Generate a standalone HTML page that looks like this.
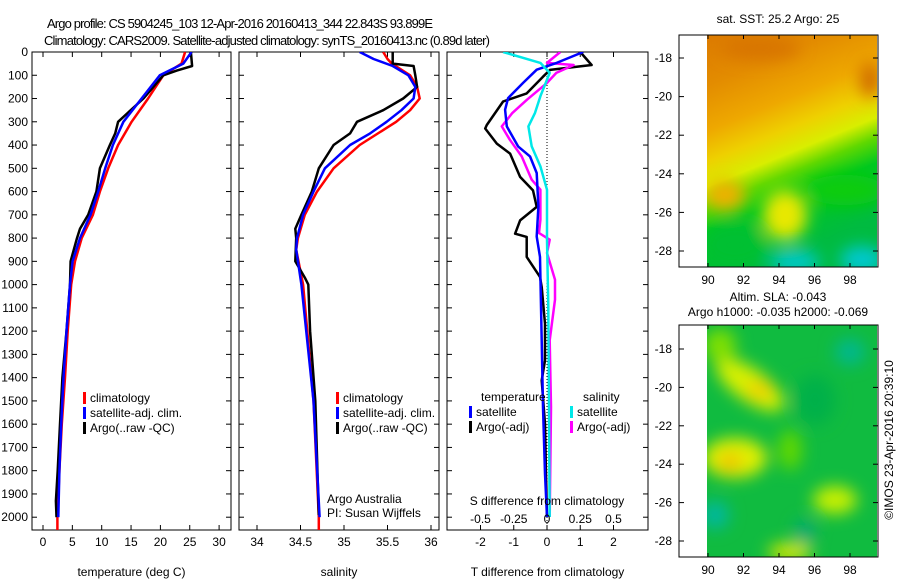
<!DOCTYPE html>
<html><head><meta charset="utf-8"><style>
html,body{margin:0;padding:0;background:#fff}
svg{display:block;font-family:"Liberation Sans",sans-serif}
</style></head><body>
<svg id="chart" width="900" height="580" viewBox="0 0 900 580" xmlns="http://www.w3.org/2000/svg">
<defs>
<filter id="bl" x="-30%" y="-30%" width="160%" height="160%"><feGaussianBlur stdDeviation="8"/></filter>
<linearGradient id="sstg" x1="0" y1="0" x2="0.3" y2="1">
<stop offset="0" stop-color="#dc7a00"/><stop offset="0.2" stop-color="#e38c00"/>
<stop offset="0.38" stop-color="#eea800"/><stop offset="0.5" stop-color="#eed000"/>
<stop offset="0.6" stop-color="#d8ee00"/><stop offset="0.68" stop-color="#60d800"/>
<stop offset="0.78" stop-color="#00c820"/><stop offset="1" stop-color="#00bb40"/>
</linearGradient>
<clipPath id="c1"><rect x="707" y="35" width="170" height="232"/></clipPath>
<clipPath id="c2"><rect x="707" y="325" width="170" height="232"/></clipPath>
<clipPath id="p1"><rect x="32" y="52" width="199" height="478"/></clipPath>
<clipPath id="p2"><rect x="239" y="52" width="200" height="478"/></clipPath>
<clipPath id="p3"><rect x="447" y="52" width="201" height="478"/></clipPath>
</defs>
<text x="47" y="28" font-size="13" textLength="386">Argo profile: CS 5904245_103 12-Apr-2016 20160413_344 22.843S 93.899E</text>
<text x="44" y="45" font-size="13" textLength="446">Climatology: CARS2009. Satellite-adjusted climatology: synTS_20160413.nc (0.89d later)</text>
<g id="panels"></g>

<g>
<text x="778" y="23" font-size="12" text-anchor="middle">sat. SST: 25.2 Argo: 25</text>
<g clip-path="url(#c1)">
<rect x="707" y="35" width="170" height="232" fill="url(#sstg)"/>
<g filter="url(#bl)">
<ellipse cx="725" cy="195" rx="20" ry="15" fill="#f0b000"/>
<ellipse cx="785" cy="215" rx="22" ry="25" fill="#e8e800"/>
<ellipse cx="735" cy="245" rx="32" ry="22" fill="#00c030"/>
<ellipse cx="845" cy="190" rx="40" ry="15" fill="#10cc10"/>
<ellipse cx="795" cy="262" rx="25" ry="12" fill="#00c8c8"/>
<ellipse cx="862" cy="260" rx="22" ry="14" fill="#00c8d0"/>
<ellipse cx="870" cy="80" rx="10" ry="18" fill="#d06800"/>
<ellipse cx="760" cy="48" rx="40" ry="12" fill="#d87400"/>
</g>
</g>
<rect x="679" y="35" width="199" height="232" fill="none" stroke="#000"/>
<g id="map1ticks"></g>
</g>

<g>
<text x="778" y="301" font-size="12" text-anchor="middle">Altim. SLA: -0.043</text>
<text x="778" y="316" font-size="12" text-anchor="middle">Argo h1000: -0.035 h2000: -0.069</text>
<g clip-path="url(#c2)">
<rect x="707" y="325" width="170" height="232" fill="#10bb40"/>
<g filter="url(#bl)">
<ellipse cx="750" cy="385" rx="40" ry="16" fill="#d8f000" transform="rotate(35 750 385)"/>
<ellipse cx="760" cy="390" rx="14" ry="9" fill="#f0d000"/>
<ellipse cx="735" cy="458" rx="32" ry="20" fill="#e0f000"/>
<ellipse cx="730" cy="462" rx="12" ry="9" fill="#f0c000"/>
<ellipse cx="720" cy="345" rx="16" ry="16" fill="#80e000"/>
<ellipse cx="790" cy="450" rx="12" ry="20" fill="#60d800"/>
<ellipse cx="835" cy="500" rx="22" ry="14" fill="#c8f000"/>
<ellipse cx="790" cy="552" rx="22" ry="9" fill="#d8e800"/>
<ellipse cx="850" cy="352" rx="15" ry="13" fill="#00b890"/>
<ellipse cx="715" cy="515" rx="14" ry="14" fill="#00b8a0"/>
<ellipse cx="805" cy="532" rx="10" ry="12" fill="#00a878"/>
<ellipse cx="815" cy="400" rx="20" ry="25" fill="#00b048"/>
</g>
</g>
<rect x="679" y="325" width="199" height="232" fill="none" stroke="#000"/>
<g id="map2ticks"></g>
</g>
<text transform="translate(893,440) rotate(-90)" font-size="12" text-anchor="middle">©IMOS 23-Apr-2016 20:39:10</text>
</svg>
<script>
const depthTicks = [0,100,200,300,400,500,600,700,800,900,1000,1100,1200,1300,1400,1500,1600,1700,1800,1900,2000];
const tempTicks = [0,5,10,15,20,25,30];
const salTicks = [34,34.5,35,35.5,36];
const tdiffTicks = [-2,-1,0,1,2];
const sdiffTicks = [-0.5,-0.25,0,0.25,0.5];
const latTicks = [-18,-20,-22,-24,-26,-28];
const lonTicks = [90,92,94,96,98];

const tClimDepth = [0,50,100,200,300,400,500,600,700,800,900,1000,1200,1400,1600,1800,2000,2055];
const tClimVal   = [24.2,23.6,20.5,17.9,15.1,12.8,11.1,9.7,8.5,6.6,5.45,4.8,4.2,3.75,3.2,2.8,2.45,2.45];
const tSatDepth  = [0,50,100,200,300,400,500,600,700,800,900,1000,1200,1400,1600,1800,2000];
const tSatVal    = [25.3,23.9,19.9,16.8,13.7,11.9,10.6,9.4,8.1,6.3,5.05,4.6,4.0,3.5,3.1,2.8,2.6];
const tArgoDepth = [0,60,80,100,200,300,350,400,500,600,700,760,800,900,1000,1200,1400,1600,1800,1930,2000];
const tArgoVal   = [25.2,25.4,22.8,20.5,17.1,12.8,12.3,11.4,9.7,9.1,7.7,6.3,5.8,4.7,4.6,4.0,3.3,2.9,2.5,2.2,2.3];

const sClimDepth = [0,30,50,100,150,200,250,300,400,500,600,700,800,850,1000,1500,2000,2055];
const sClimVal   = [35.45,35.5,35.55,35.76,35.84,35.87,35.76,35.6,35.18,34.88,34.69,34.55,34.47,34.45,34.53,34.65,34.71,34.71];
const sSatDepth  = [0,30,60,100,150,200,250,300,350,400,500,600,700,800,850,1000,1500,2000];
const sSatVal    = [35.18,35.34,35.56,35.74,35.82,35.8,35.66,35.49,35.3,35.07,34.78,34.65,34.53,34.46,34.45,34.51,34.65,34.72];
const sArgoDepth = [0,50,60,100,150,200,250,300,350,400,500,600,700,760,800,900,970,1000,1200,1500,1990];
const sArgoVal   = [35.56,35.56,35.8,35.82,35.84,35.68,35.45,35.15,35.07,34.88,34.71,34.63,34.51,34.44,34.45,34.44,34.55,34.59,34.61,34.67,34.71];

const dTSatDepth = [0,47,76,133,198,248,320,406,449,520,664,793,881,1240,1527,1813,1999];
const dTSatVal   = [1.09,0.29,-0.31,-0.72,-1.17,-1.26,-1.21,-0.87,-0.51,-0.31,-0.26,-0.31,-0.21,-0.16,-0.12,-0.06,0];
const dTArgoDepth = [0,56,77,106,178,213,314,329,394,437,537,595,666,724,781,795,881,967,1010,1168,1326,1412,1598,1813,1999];
const dTArgoVal   = [1.0,1.34,0.09,-0.12,-0.61,-1.32,-1.81,-1.86,-1.51,-1.11,-0.81,-0.42,-0.31,-0.81,-0.96,-0.61,-0.61,-0.21,-0.16,-0.06,-0.06,-0.16,-0.06,-0.03,0];
const dSSatDepth = [0,47,90,190,262,320,406,492,592,807,1093,1999];
const dSSatVal   = [-0.33,-0.05,0.02,-0.05,-0.09,-0.14,-0.115,-0.05,0,0,0.01,0.02];
const dSArgoDepth = [0,47,56,90,133,205,262,320,377,449,549,592,721,778,807,864,979,1065,1240,1527,1999];
const dSArgoVal   = [0.1,0,0.2,0.07,0,-0.15,-0.26,-0.34,-0.28,-0.19,-0.115,-0.05,-0.05,-0.06,0.02,0,0.06,0.06,0.02,0.03,0.02];

const Y0=52, Y1=530, DMAX=2055;
const yD = d => Y0 + d*(Y1-Y0)/DMAX;
const xT = t => 43 + t*5.87;
const xS = s => 257 + (s-34)*87;
const xDT = t => 547 + t*33.25;
const xDS = s => 547 + s*133;
const NS='http://www.w3.org/2000/svg';
const root=document.getElementById('panels');
function mk(tag,attrs,parent){const e=document.createElementNS(NS,tag);for(const k in attrs)e.setAttribute(k,attrs[k]);(parent||root).appendChild(e);return e;}
function txt(x,y,s,anchor,parent,size){const e=mk('text',{x:x,y:y,'font-size':size||12,'text-anchor':anchor||'middle'},parent);e.textContent=s;return e;}

function panel(name,x0,x1,clip,xticks,xf,xlabel,showDepth){
  const g=mk('g',{});
  
  
  const fr=mk('rect',{x:x0,y:Y0,width:x1-x0,height:Y1-Y0,fill:'none',stroke:'#000'},g);
  
  
  depthTicks.forEach(d=>{const y=yD(d);
    mk('line',{x1:x0,x2:x0+5,y1:y,y2:y,stroke:'#000'},g);
    mk('line',{x1:x1-5,x2:x1,y1:y,y2:y,stroke:'#000'},g);
    if(showDepth){const t=txt(28,y+4,String(d),'end',g);  }
  });
  if(xticks){xticks.forEach(v=>{const x=xf(v);
    mk('line',{x1:x,x2:x,y1:Y0,y2:Y0+5,stroke:'#000'},g);
    mk('line',{x1:x,x2:x,y1:Y1-5,y2:Y1,stroke:'#000'},g);
    const t=txt(x,Y1+16,String(v),'middle',g);  
  });}
  const l=txt((x0+x1)/2,Y1+46,xlabel,'middle',g);
  
  
  return g;
}
function line(g,depths,vals,xf,color,clip,nm,w){
  const pts=depths.map((d,i)=>xf(vals[i]).toFixed(1)+','+yD(d).toFixed(1)).join(' ');
  const p=mk('polyline',{points:pts,fill:'none',stroke:color,'stroke-width':w||2.5,'stroke-linejoin':'round','clip-path':clip},g);
  
  
}
function legend(g,x,y,items){
  items.forEach((it,i)=>{
    mk('rect',{x:x,y:y+i*15-10,width:3,height:12,fill:it[0]},g);
    const t=txt(x+7,y+i*15,it[1],'start',g);
    
    
  });
}
const g1=panel('temperature',32,231,'url(#p1)',tempTicks,xT,'temperature (deg C)',true);
line(g1,tClimDepth,tClimVal,xT,'#ff0000','url(#p1)','temp-climatology-line');
line(g1,tArgoDepth,tArgoVal,xT,'#000','url(#p1)','temp-argo-line');
line(g1,tSatDepth,tSatVal,xT,'#0000ff','url(#p1)','temp-satellite-line');
legend(g1,83,402,[['#ff0000','climatology'],['#0000ff','satellite-adj. clim.'],['#000','Argo(..raw -QC)']]);
const g2=panel('salinity',239,439,'url(#p2)',salTicks,xS,'salinity',false);
line(g2,sClimDepth,sClimVal,xS,'#ff0000','url(#p2)','sal-climatology-line');
line(g2,sArgoDepth,sArgoVal,xS,'#000','url(#p2)','sal-argo-line');
line(g2,sSatDepth,sSatVal,xS,'#0000ff','url(#p2)','sal-satellite-line');
legend(g2,336,402,[['#ff0000','climatology'],['#0000ff','satellite-adj. clim.'],['#000','Argo(..raw -QC)']]);
let t=txt(327,503,'Argo Australia','start',g2);  
t=txt(327,517,'PI: Susan Wijffels','start',g2);  
const g3=panel('difference',447,648,'url(#p3)',tdiffTicks,xDT,'T difference from climatology',false);
mk('line',{x1:xDT(0),x2:xDT(0),y1:Y0,y2:Y1,stroke:'#000','stroke-dasharray':'1,2'},g3);
line(g3,dTArgoDepth,dTArgoVal,xDT,'#000','url(#p3)','tdiff-argo-line');
line(g3,dSArgoDepth,dSArgoVal,xDS,'#ff00ff','url(#p3)','sdiff-argo-line');
line(g3,dTSatDepth,dTSatVal,xDT,'#0000ff','url(#p3)','tdiff-satellite-line');
line(g3,dSSatDepth,dSSatVal,xDS,'#00e8e8','url(#p3)','sdiff-satellite-line');
sdiffTicks.forEach(v=>{const t=txt(xDS(v),Y1-7,String(v),'middle',g3);  });
t=txt(547,505,'S difference from climatology','middle',g3);  
t=txt(481,401,'temperature','start',g3);  
t=txt(583,401,'salinity','start',g3);  
legend(g3,469,416,[['#0000ff','satellite'],['#000','Argo(-adj)']]);
legend(g3,570,416,[['#00e8e8','satellite'],['#ff00ff','Argo(-adj)']]);
function mapTicks(id,top,bot,lat0y,pxPerLat){
  const g=document.getElementById(id);
  latTicks.forEach(v=>{const y=lat0y+(-18-v)*pxPerLat;
    mk('line',{x1:679,x2:684,y1:y,y2:y,stroke:'#000'},g);
    mk('line',{x1:873,x2:878,y1:y,y2:y,stroke:'#000'},g);
    const t=txt(672,y+4,String(v),'end',g);  
  });
  lonTicks.forEach(v=>{const x=708+(v-90)*17.75;
    mk('line',{x1:x,x2:x,y1:top,y2:top+4,stroke:'#000'},g);
    mk('line',{x1:x,x2:x,y1:bot-4,y2:bot,stroke:'#000'},g);
    const t=txt(x,bot+17,String(v),'middle',g);  
  });
}
mapTicks('map1ticks',35,267,58,19.3);
mapTicks('map2ticks',325,557,349,19.2);
</script>
</body></html>
